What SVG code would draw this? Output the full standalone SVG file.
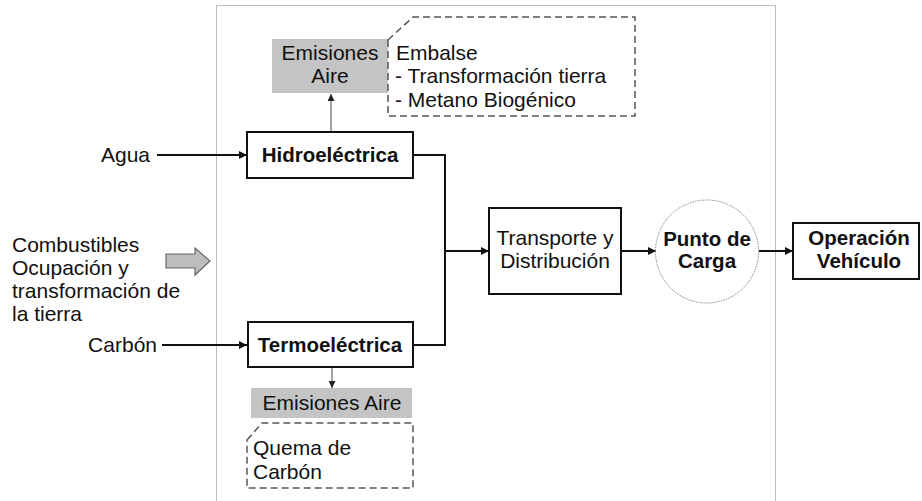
<svg xmlns="http://www.w3.org/2000/svg" width="922" height="501" viewBox="0 0 922 501">
<style>
text{font-family:"Liberation Sans",Arial,sans-serif;font-size:21px;fill:#111}
.b{font-weight:bold;font-size:20.5px}
.c{text-anchor:middle}
.box{fill:#fff;stroke:#111;stroke-width:2}
.emi{fill:#c4c4c4;stroke:none}
.note{fill:none;stroke:#555;stroke-width:1.5;stroke-dasharray:7,4}
.con{fill:none;stroke:#111;stroke-width:2}
.thin{fill:none;stroke:#444;stroke-width:1}
</style>
<defs>
<marker id="ah" viewBox="0 0 10 10" refX="10" refY="5" markerWidth="10" markerHeight="8" markerUnits="userSpaceOnUse" orient="auto"><path d="M0,0L10,5L0,10z" fill="#111"/></marker>
<marker id="ahs" viewBox="0 0 10 10" refX="10" refY="5" markerWidth="8" markerHeight="7" markerUnits="userSpaceOnUse" orient="auto"><path d="M0,0L10,5L0,10z" fill="#222"/></marker>
</defs>
<rect x="0" y="0" width="922" height="501" fill="#fff"/>
<g id="frame"><rect x="216.5" y="5.5" width="559" height="505" fill="none" stroke="#777" stroke-width="1" stroke-dasharray="1,1"/></g>

<g id="connectors">
<line class="con" x1="157" y1="155" x2="247" y2="155" marker-end="url(#ah)"/>
<line class="con" x1="162" y1="345" x2="247" y2="345" marker-end="url(#ah)"/>
<polyline class="con" points="413,155 445,155 445,345 413,345"/>
<line class="con" x1="445" y1="251" x2="489" y2="251" marker-end="url(#ah)"/>
<line class="con" x1="621" y1="251" x2="656" y2="251" marker-end="url(#ah)"/>
<line class="con" x1="759" y1="251" x2="793" y2="251" marker-end="url(#ah)"/>
<line class="thin" x1="331" y1="132" x2="331" y2="94" marker-end="url(#ahs)"/>
<line class="thin" x1="332" y1="368" x2="332" y2="388" marker-end="url(#ahs)"/>
</g>

<g id="agua"><text x="150" y="162" text-anchor="end">Agua</text></g>
<g id="carbon"><text x="157" y="352" text-anchor="end">Carbón</text></g>
<g id="combustibles">
<text x="12" y="252">Combustibles</text>
<text x="12" y="275">Ocupación y</text>
<text x="12" y="298">transformación de</text>
<text x="12" y="321">la tierra</text>
<path d="M166,254L195,254L195,248L210,261L195,275L195,268L166,268z" fill="#bdbdbd" stroke="#666" stroke-width="1.2"/>
</g>

<g id="emisiones-hidro">
<rect class="emi" x="272" y="39" width="116" height="54"/>
<text class="c" x="330" y="60" fill="#222">Emisiones</text>
<text class="c" x="330" y="83" fill="#222">Aire</text>
</g>
<g id="nota-embalse">
<path class="note" d="M388,40L413,17L635,17L635,116L388,116z"/>
<text x="396" y="60">Embalse</text>
<text x="395" y="83">- Transformación tierra</text>
<text x="395" y="107">- Metano Biogénico</text>
</g>

<g id="hidroelectrica">
<rect class="box" x="247" y="132" width="166" height="46"/>
<text class="b c" x="330" y="162">Hidroeléctrica</text>
</g>
<g id="termoelectrica">
<rect class="box" x="248" y="322" width="165" height="45"/>
<text class="b c" x="330" y="352">Termoeléctrica</text>
</g>

<g id="emisiones-termo">
<rect class="emi" x="251" y="388" width="161" height="30"/>
<text class="c" x="332" y="410" fill="#222">Emisiones Aire</text>
</g>
<g id="nota-quema">
<path class="note" d="M247,440L262,423L413,423L413,488L247,488z"/>
<text x="253" y="455">Quema de</text>
<text x="253" y="479">Carbón</text>
</g>

<g id="transporte">
<rect class="box" x="489" y="208" width="132" height="86"/>
<text class="c" x="555" y="245">Transporte y</text>
<text class="c" x="555" y="268">Distribución</text>
</g>
<g id="punto-carga">
<circle cx="707" cy="251.5" r="51.5" fill="#fff" stroke="#888" stroke-width="1" stroke-dasharray="1.5,1"/>
<text class="b c" x="707" y="246">Punto de</text>
<text class="b c" x="707" y="268">Carga</text>
</g>
<g id="operacion">
<rect class="box" x="793" y="223" width="126" height="56"/>
<text class="b c" x="859" y="245">Operación</text>
<text class="b c" x="859" y="268">Vehículo</text>
</g>
</svg>
